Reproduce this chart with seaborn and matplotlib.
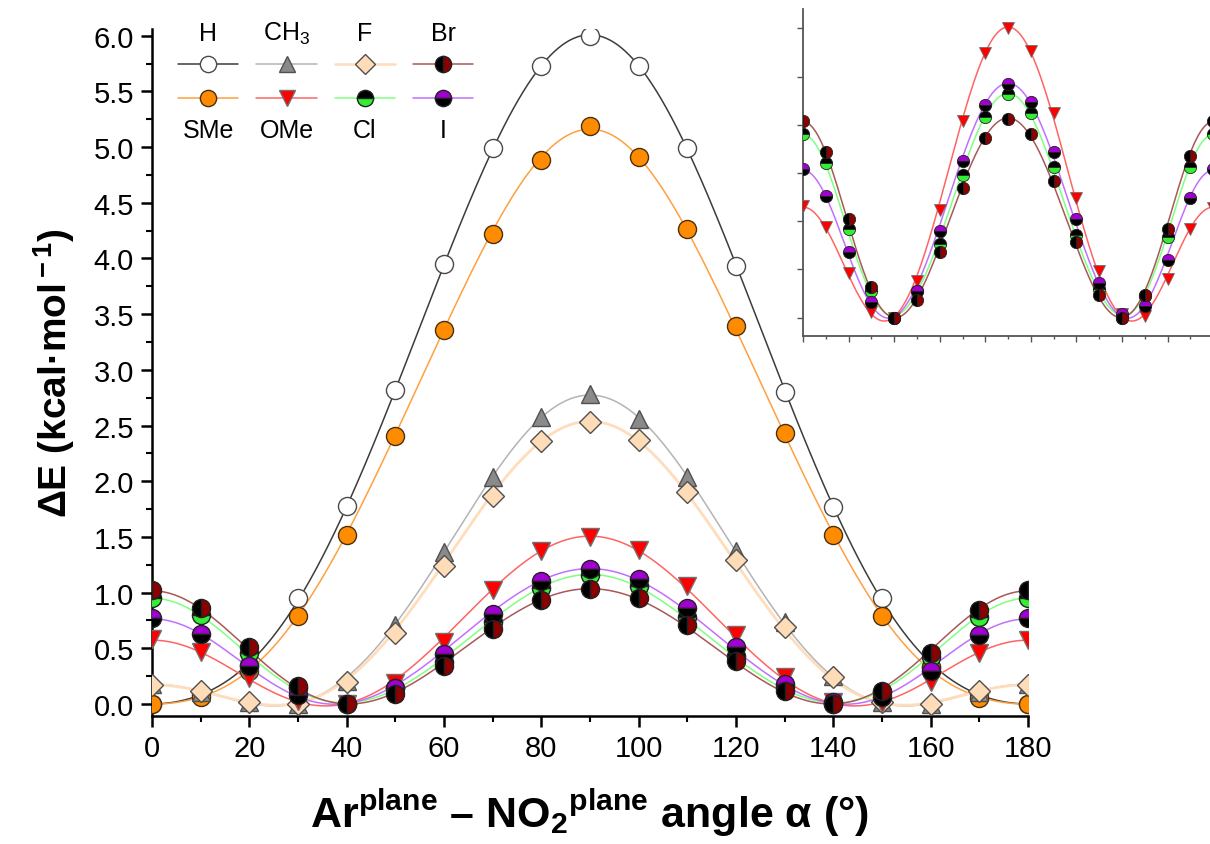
import numpy as np
import pandas as pd
import matplotlib
matplotlib.use("Agg")
import matplotlib.pyplot as plt
from matplotlib.lines import Line2D
from matplotlib.ticker import MultipleLocator
import seaborn as sns

# ---------------- data ----------------
angles = [0, 10, 20, 30, 40, 50, 60, 70, 80, 90, 100, 110, 120, 130, 140, 150, 160, 170, 180]

e_H   = [0.00, 0.09, 0.35, 0.95, 1.78, 2.82, 3.95, 4.99, 5.73, 6.00, 5.73, 4.99, 3.93, 2.80, 1.77, 0.95, 0.33, 0.10, 0.00]
e_SMe = [0.00, 0.06, 0.30, 0.79, 1.52, 2.41, 3.36, 4.22, 4.88, 5.19, 4.91, 4.26, 3.39, 2.43, 1.52, 0.79, 0.33, 0.05, 0.00]
e_CH3 = [0.18, 0.11, 0.02, 0.00, 0.21, 0.71, 1.36, 2.04, 2.58, 2.78, 2.56, 2.04, 1.37, 0.74, 0.25, 0.02, 0.00, 0.11, 0.18]
e_F   = [0.17, 0.12, 0.02, 0.00, 0.20, 0.64, 1.24, 1.87, 2.36, 2.53, 2.37, 1.90, 1.29, 0.69, 0.24, 0.02, 0.00, 0.12, 0.17]
e_OMe = [0.58, 0.47, 0.23, 0.03, 0.00, 0.19, 0.56, 1.02, 1.37, 1.50, 1.38, 1.06, 0.62, 0.24, 0.02, 0.01, 0.20, 0.46, 0.57]
e_Cl  = [0.95, 0.80, 0.46, 0.14, 0.00, 0.14, 0.38, 0.74, 1.04, 1.16, 1.06, 0.78, 0.43, 0.15, 0.00, 0.11, 0.42, 0.78, 0.95]
e_Br  = [1.02, 0.86, 0.51, 0.16, 0.00, 0.09, 0.34, 0.67, 0.93, 1.03, 0.95, 0.71, 0.39, 0.12, 0.00, 0.12, 0.46, 0.84, 1.02]
e_I   = [0.77, 0.63, 0.34, 0.08, 0.00, 0.14, 0.45, 0.81, 1.10, 1.21, 1.12, 0.86, 0.51, 0.18, 0.02, 0.06, 0.30, 0.62, 0.77]

y_ticks_main = [0.0, 0.5, 1.0, 1.5, 2.0, 2.5, 3.0, 3.5, 4.0, 4.5, 5.0, 5.5, 6.0]
x_ticks_main = [0, 20, 40, 60, 80, 100, 120, 140, 160, 180]

# ---------------- styles ----------------
styles = {
    "H":   dict(label="H",        data=e_H,   lc="#3c3c3c", lw=1.1, marker="o", ms=13, mfc="white",   alt=None,      mec="#4a4a4a", fill="full"),
    "SMe": dict(label="SMe",      data=e_SMe, lc="#ffa040", lw=1.1, marker="o", ms=13, mfc="#ff8c00", alt=None,      mec="#4a3010", fill="full"),
    "CH3": dict(label="CH$_3$",   data=e_CH3, lc="#b4b4b4", lw=1.1, marker="^", ms=13, mfc="#8a8a8a", alt=None,      mec="#505050", fill="full"),
    "F":   dict(label="F",        data=e_F,   lc="#ffdcbc", lw=2.0, marker="D", ms=11, mfc="#ffdcb8", alt=None,      mec="#505050", fill="full"),
    "OMe": dict(label="OMe",      data=e_OMe, lc="#ff6464", lw=1.1, marker="v", ms=13, mfc="#ff0000", alt=None,      mec="#707070", fill="full"),
    "Cl":  dict(label="Cl",       data=e_Cl,  lc="#80ff80", lw=1.1, marker="o", ms=13, mfc="black",   alt="#33ee33", mec="#222222", fill="top"),
    "I":   dict(label="I",        data=e_I,   lc="#c070ff", lw=1.1, marker="o", ms=13, mfc="#a000d0", alt="black",   mec="#222222", fill="top"),
    "Br":  dict(label="Br",       data=e_Br,  lc="#a85858", lw=1.1, marker="o", ms=13, mfc="black",   alt="#8b0000", mec="#222222", fill="left"),
}
draw_order = ["H", "SMe", "CH3", "F", "OMe", "Cl", "I", "Br"]
inset_keys = ["OMe", "Cl", "I", "Br"]

# ---------------- smooth fit curve (cosine series, least squares) ----------------
def fourier_fit(x, y, n=5):
    xr = np.deg2rad(np.asarray(x, float))
    A = np.column_stack([np.cos(2 * k * xr) for k in range(n)])
    c, *_ = np.linalg.lstsq(A, np.asarray(y, float), rcond=None)
    xd = np.linspace(0, 180, 721)
    Ad = np.column_stack([np.cos(2 * k * np.deg2rad(xd)) for k in range(n)])
    return xd, Ad @ c

sns.set_theme(style="ticks")
plt.rcParams["font.family"] = ["Liberation Sans", "DejaVu Sans"]
plt.rcParams["text.color"] = "black"
plt.rcParams["axes.labelcolor"] = "black"
plt.rcParams["mathtext.fontset"] = "custom"
plt.rcParams["mathtext.rm"] = "Liberation Sans"
plt.rcParams["mathtext.bf"] = "Liberation Sans:bold"
plt.rcParams["mathtext.it"] = "Liberation Sans:italic"

W, H = 1210, 845
fig = plt.figure(figsize=(W / 100, H / 100), dpi=100)
fig.patch.set_facecolor("white")

# main axes
ax = fig.add_axes([152 / W, 1 - 717 / H, (1028 - 152) / W, (717 - 30) / H])

def draw_series(axx, key, ms_scale=1.0, lw_scale=1.0, mew=1.0):
    s = styles[key]
    xd, yd = fourier_fit(angles, s["data"])
    sns.lineplot(x=xd, y=yd, ax=axx, color=s["lc"], lw=s["lw"] * lw_scale,
                 estimator=None, sort=False, zorder=2, legend=False)
    kw = dict(marker=s["marker"], markersize=s["ms"] * ms_scale, markerfacecolor=s["mfc"],
              markeredgecolor=s["mec"], markeredgewidth=mew, fillstyle=s["fill"])
    if s["alt"] is not None:
        kw["markerfacecoloralt"] = s["alt"]
    sns.lineplot(x=angles, y=s["data"], ax=axx, linestyle="", estimator=None,
                 sort=False, zorder=3, legend=False, **kw)

for k in draw_order:
    draw_series(ax, k)

ax.set_xlim(0, 180)
ax.set_ylim(-0.108, 6.06)
ax.set_xticks(x_ticks_main)
ax.set_yticks(y_ticks_main)
ax.set_yticklabels([f"{v:.1f}" for v in y_ticks_main])
ax.xaxis.set_minor_locator(MultipleLocator(10))
ax.yaxis.set_minor_locator(MultipleLocator(0.25))
ax.tick_params(axis="both", which="major", direction="out", length=8, width=1.8,
               labelsize=21, color="black", labelcolor="black", pad=5)
ax.tick_params(axis="both", which="minor", direction="out", length=4.5, width=1.5, color="black")
for sp in ["top", "right"]:
    ax.spines[sp].set_visible(False)
for sp in ["left", "bottom"]:
    ax.spines[sp].set_linewidth(1.8)
    ax.spines[sp].set_color("black")
ax.set_facecolor("white")

ax.set_ylabel("ΔE (kcal·mol$^{\\bf -1}$)", fontsize=28, fontweight="bold", labelpad=12,
              color="black")
ax.set_xlabel("Ar$^{\\bf plane}$ – NO$_{\\bf 2}$$^{\\bf plane}$ angle α (°)",
              fontsize=31, fontweight="bold", labelpad=18, color="black")

# legend (4 columns x 2 rows, labels placed above / below)
leg_order = ["H", "SMe", "CH3", "OMe", "F", "Cl", "Br", "I"]
handles = []
for k in leg_order:
    s = styles[k]
    kw = dict(color=s["lc"], lw=s["lw"] if k != "F" else 1.8, marker=s["marker"],
              markersize=s["ms"] * 0.9, markerfacecolor=s["mfc"], markeredgecolor=s["mec"],
              markeredgewidth=1.0, fillstyle=s["fill"])
    if s["alt"] is not None:
        kw["markerfacecoloralt"] = s["alt"]
    handles.append(Line2D([], [], **kw))
leg = ax.legend(handles, [""] * 8, ncol=4, loc="upper left",
                bbox_to_anchor=(178 / W, 1 - 58 / H), bbox_transform=fig.transFigure,
                frameon=False, handlelength=3.1, handletextpad=0.0, columnspacing=0.93,
                labelspacing=0.85, fontsize=14, borderpad=0, borderaxespad=0)
fig.canvas.draw()
inv = fig.transFigure.inverted()
for i, (k, hnd) in enumerate(zip(leg_order, leg.legend_handles)):
    bb = hnd.get_window_extent(fig.canvas.get_renderer())
    cx, cy = (bb.x0 + bb.x1) / 2, (bb.y0 + bb.y1) / 2
    row = i % 2
    off = 31 if row == 0 else -32
    fx, fy = inv.transform((cx, cy + off))
    fig.text(fx, fy, styles[k]["label"], ha="center", va="center", fontsize=18,
             color="black")

# inset
axi = fig.add_axes([803 / W, 1 - 337 / H, (1210 - 803) / W, (337 - 10) / H])
for k in inset_keys:
    draw_series(axi, k, ms_scale=0.68, lw_scale=1.0, mew=0.6)
axi.set_xlim(0, 178.6)
axi.set_ylim(-0.095, 1.6)
axi.xaxis.set_major_locator(MultipleLocator(20))
axi.xaxis.set_minor_locator(MultipleLocator(10))
axi.yaxis.set_major_locator(MultipleLocator(0.25))
axi.set_xticklabels([])
axi.set_yticklabels([])
axi.tick_params(axis="both", which="major", direction="out", length=4, width=1.0, color="#555555")
axi.tick_params(axis="both", which="minor", direction="out", length=2.5, width=1.0, color="#555555")
for sp in ["top", "right"]:
    axi.spines[sp].set_visible(False)
for sp in ["left", "bottom"]:
    axi.spines[sp].set_linewidth(1.3)
    axi.spines[sp].set_color("#555555")
axi.set_xlabel("")
axi.set_ylabel("")
axi.set_facecolor("white")

fig.savefig("out.png", dpi=100, facecolor="white")
